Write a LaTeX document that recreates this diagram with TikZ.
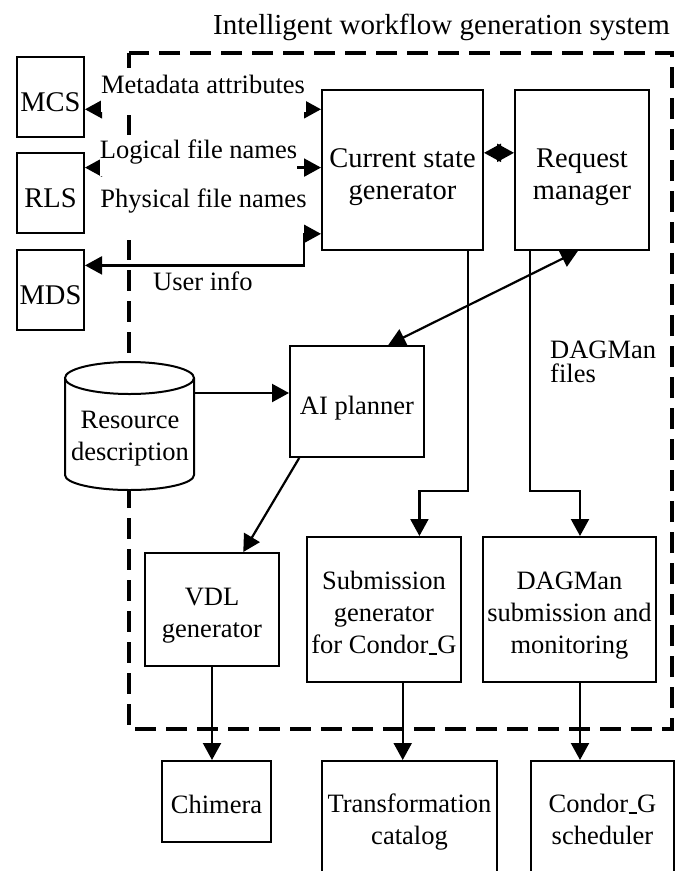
\documentclass[tikz,border=0pt]{standalone}
\usepackage{fontspec}
\setmainfont{Liberation Serif}
\usetikzlibrary{arrows.meta,calc}
\newcommand\bt[2]{\raisebox{-#1}[0pt][0pt]{\begin{tabular}[t]{@{}c@{}}#2\end{tabular}}}
\newcommand\usc{\kern0.5pt\rule[-1.2pt]{8pt}{1.4pt}\kern0.5pt}
\begin{document}
\begin{tikzpicture}[x=1pt,y=-1pt,
  font=\fontsize{26.5}{32}\selectfont,
  box/.style={draw, line width=2pt, inner sep=0pt},
  big/.style={font=\fontsize{28.5}{32}\selectfont},
  arr/.style={line width=2.2pt, -{Triangle[length=17pt,width=18pt]}},
  darr/.style={line width=2.2pt, {Triangle[length=17pt,width=18pt]}-{Triangle[length=17pt,width=18pt]}},
  lbl/.style={fill=white, inner sep=0pt, anchor=base}]
\useasboundingbox (0,0) rectangle (678,871);
\node[anchor=base east, inner sep=0pt, font=\fontsize{29}{32}\selectfont] (title) at (670,34) {Intelligent workflow generation system};
\draw[line width=3.3pt, dash pattern=on 21pt off 10pt] (129,53) rectangle (672,729);
% cylinder
\filldraw[fill=white, line width=2pt] (65,378) -- (65,475) arc[start angle=180, end angle=0, x radius=64.5, y radius=15] -- (194,378);
\draw[fill=white, line width=2pt] (129.5,378) ellipse[x radius=64.5, y radius=16];
\coordinate (cylR) at (194,393);
\node[inner sep=0pt] (rd) at (130,436) {\bt{-8pt}{Resource\\description}};
% boxes
\node[box, big, minimum width=67pt, minimum height=80pt] (mcs) at (50.5,97) {\bt{14.5pt}{MCS}};
\node[box, big, minimum width=67pt, minimum height=80pt] (rls) at (50.5,193) {\bt{14.5pt}{RLS}};
\node[box, big, minimum width=67pt, minimum height=80pt] (mds) at (50.5,290) {\bt{14.5pt}{MDS}};
\node[box, big, minimum width=161pt, minimum height=160pt] (csg) at (402.5,170) {\bt{-3pt}{Current state\\generator}};
\node[box, big, minimum width=134pt, minimum height=160pt] (rm) at (582,170) {\bt{-3pt}{Request\\manager}};
\node[box, minimum width=134pt, minimum height=111pt] (ai) at (357,401.5) {\bt{13pt}{AI planner}};
\node[box, minimum width=134pt, minimum height=113pt] (vdl) at (212,609.5) {\bt{-4pt}{VDL\\generator}};
\node[box, minimum width=154pt, minimum height=145pt] (sub) at (384,609.5) {\bt{-20pt}{Submission\\generator\\for Condor\usc G}};
\node[box, minimum width=173pt, minimum height=145pt] (dag) at (569.5,609.5) {\bt{-20pt}{DAGMan\\submission and\\monitoring}};
\node[box, minimum width=109pt, minimum height=81pt] (chi) at (216.5,801.5) {\bt{11.5pt}{Chimera}};
\node[box, minimum width=175pt, minimum height=114pt] (tra) at (409.5,818) {\bt{-5.5pt}{Transformation\\catalog}};
\node[box, minimum width=143pt, minimum height=114pt] (con) at (602.5,818) {\bt{-5.5pt}{Condor\usc G\\scheduler}};
% arrows left
\path ($(mcs.north east)!0.65!(mcs.south east)$) coordinate (p1);
\draw[darr] (p1) -- (p1 -| csg.west);
\path ($(rls.north east)!0.19!(rls.south east)$) coordinate (p2);
\draw[darr] (p2) -- (p2 -| csg.west);
\path ($(csg.north east)!0.394!(csg.south east)$) coordinate (p3);
\draw[darr] (p3) -- (p3 -| rm.west);
\node[lbl, text height=25pt, text depth=19pt, minimum width=205pt] (lm) at (203,93) {Metadata attributes};
\node[lbl, text height=23pt, text depth=18pt, minimum width=197pt] (ll) at (198.5,158) {Logical file names};
\node[lbl, text height=30pt, text depth=33pt, minimum width=207pt] (lp) at (203.5,207) {Physical file names};
\path ($(mds.north east)!0.2!(mds.south east)$) coordinate (p4);
\path ($(csg.north west)!0.894!(csg.south west)$) coordinate (p5);
\draw[darr] (p4) -| ($(p5)+(-17,0)$) -- (p5);
\node[anchor=base west, inner sep=0pt] (ui) at (153,290) {User info};
% other arrows
\draw[darr] ($(ai.north west)!0.73!(ai.north east)$) -- ($(rm.south west)!0.47!(rm.south east)$);
\draw[arr] (cylR) -- (cylR -| ai.west);
\draw[arr] ($(ai.south west)!0.075!(ai.south east)$) -- ($(vdl.north west)!0.73!(vdl.north east)$);
\draw[arr] ($(csg.south west)!0.901!(csg.south east)$) -- ++(0,240) -| ($(sub.north west)!0.727!(sub.north east)$);
\draw[arr] ($(rm.south west)!0.12!(rm.south east)$) -- ++(0,240) -| ($(dag.north west)!0.56!(dag.north east)$);
\node[anchor=base west, inner sep=0pt] (df) at (550,358) {\begin{tabular}[t]{@{}l@{}}DAGMan\\[-8pt]files\end{tabular}};
\draw[arr] (vdl.south) -- (vdl.south |- chi.north);
\path ($(sub.south west)!0.62!(sub.south east)$) coordinate (q1);
\draw[arr] (q1) -- (q1 |- tra.north);
\path ($(dag.south west)!0.56!(dag.south east)$) coordinate (q2);
\draw[arr] (q2) -- (q2 |- con.north);
\end{tikzpicture}
\end{document}
